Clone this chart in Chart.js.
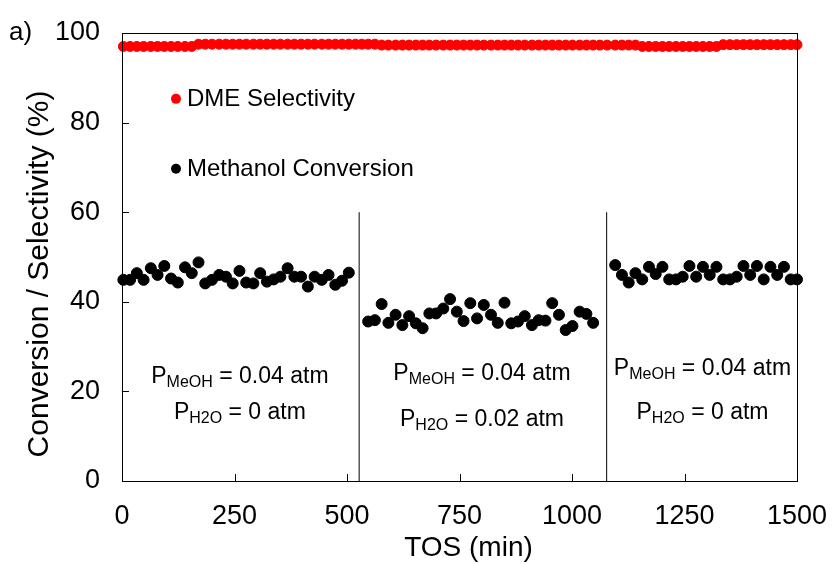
<!DOCTYPE html>
<html lang="en">
<head>
    <meta charset="UTF-8">
    <title>Conversion / Selectivity vs TOS</title>
    <script src="https://cdn.jsdelivr.net/npm/chart.js"></script>
    <style>
        html, body { margin: 0; padding: 0; background: #fff; }
        #wrap { width: 837px; height: 564px; position: relative; }
    </style>
</head>
<body>
    <div id="wrap"><canvas id="chart" width="837" height="564"></canvas></div>

    <script>
        // TOS (min) for each of the three feed periods
        const tosA = [3, 18, 33, 48, 64, 79, 94, 109, 124, 140, 155, 170, 185, 200, 216, 231, 246,
                      261, 276, 292, 307, 322, 337, 352, 368, 383, 398, 413, 428, 444, 459, 474, 489, 504];
        const tosB = [547, 562, 577, 592, 608, 623, 638, 653, 668, 683, 698, 714, 729, 744, 759, 774, 789,
                      804, 820, 835, 850, 865, 880, 895, 911, 926, 941, 956, 971, 986, 1001, 1017, 1032, 1047];
        const tosC = [1096, 1111, 1126, 1141, 1156, 1171, 1186, 1201, 1216, 1231, 1246, 1261, 1276, 1291,
                      1306, 1321, 1336, 1351, 1366, 1381, 1396, 1411, 1426, 1441, 1456, 1471, 1486, 1500];
        const tosGap1 = [519, 533];
        const tosGap2 = [1062, 1078];

        // Methanol conversion (%)
        const convA = [44.9, 44.9, 46.4, 44.9, 47.5, 46.0, 48.0, 45.2, 44.3, 47.7, 46.4, 48.8, 44.1, 44.9, 46.0, 45.6, 44.1,
                       46.9, 44.3, 44.1, 46.4, 44.5, 45.0, 45.6, 47.5, 45.6, 45.6, 43.4, 45.6, 44.9, 46.0, 43.8, 44.7, 46.5];
        const convB = [35.6, 35.9, 39.5, 35.3, 37.1, 34.8, 36.8, 35.2, 34.1, 37.4, 37.4, 38.5, 40.6, 37.8, 35.7, 39.7, 36.3,
                       39.3, 37.1, 35.3, 39.8, 35.2, 35.6, 36.8, 34.8, 35.9, 35.8, 39.7, 37.1, 33.7, 34.6, 37.8, 37.3, 35.3];
        const convC = [48.2, 46.0, 44.3, 46.4, 45.0, 47.8, 46.2, 47.8, 45.0, 45.0, 45.6, 48.0, 45.6, 47.8,
                       46.0, 47.8, 45.0, 45.0, 45.6, 48.0, 46.0, 48.0, 45.0, 47.8, 46.0, 47.8, 45.0, 45.0];

        // DME selectivity (%)
        const selA = [97.0, 97.0, 97.0, 97.0, 97.0, 97.0, 97.0, 97.0, 97.0, 97.0, 97.0, 97.5, 97.5, 97.5, 97.5, 97.5, 97.5,
                      97.5, 97.5, 97.5, 97.5, 97.5, 97.5, 97.5, 97.5, 97.5, 97.5, 97.5, 97.5, 97.5, 97.5, 97.5, 97.5, 97.5];
        const selGap1 = [97.5, 97.5];
        const selB = [97.5, 97.5, 97.3, 97.3, 97.3, 97.3, 97.3, 97.3, 97.3, 97.3, 97.3, 97.3, 97.3, 97.3, 97.3, 97.3, 97.3,
                      97.3, 97.3, 97.3, 97.3, 97.3, 97.3, 97.3, 97.3, 97.3, 97.3, 97.3, 97.3, 97.3, 97.3, 97.3, 97.3, 97.3];
        const selGap2 = [97.3, 97.3];
        const selC = [97.3, 97.3, 97.3, 97.3, 97.0, 97.0, 97.0, 97.0, 97.0, 97.0, 97.0, 97.0, 97.0, 97.0,
                      97.0, 97.0, 97.4, 97.4, 97.4, 97.4, 97.4, 97.4, 97.4, 97.4, 97.4, 97.4, 97.4, 97.4];

        // feed switches and conditions per period
        const switchTimes = [527, 1077];
        const switchTop = 60;
        const periodCenters = [262, 800, 1290];
        const pMeOH = ['0.04 atm', '0.04 atm', '0.04 atm'];
        const pH2O = ['0 atm', '0.02 atm', '0 atm'];

        const xTicks = [0, 250, 500, 750, 1000, 1250, 1500];
        const yTicks = [0, 20, 40, 60, 80, 100];

        const FONT = "'Liberation Sans', Arial, sans-serif";

        function pairs(xs, ys) {
            return xs.map((x, i) => ({ x: x, y: ys[i] }));
        }

        const convData = pairs(tosA, convA).concat(pairs(tosB, convB), pairs(tosC, convC));
        const selData = pairs(tosA, selA).concat(pairs(tosGap1, selGap1), pairs(tosB, selB),
                                                 pairs(tosGap2, selGap2), pairs(tosC, selC));

        const switchSets = switchTimes.map(t => ({
            data: [{ x: t, y: 0 }, { x: t, y: switchTop }],
            showLine: true,
            borderColor: '#000',
            borderWidth: 1,
            pointRadius: 0,
            order: 3
        }));

        // inward ticks, frame, tick labels, titles, legend and text labels
        const decorations = {
            id: 'decorations',
            afterDraw(chart) {
                const ctx = chart.ctx;
                const a = chart.chartArea;
                const xs = chart.scales.x, ys = chart.scales.y;
                ctx.save();
                ctx.strokeStyle = '#000';
                ctx.lineWidth = 1;
                ctx.strokeRect(a.left + 0.5, a.top + 0.5, a.right - a.left, a.bottom - a.top);
                ctx.beginPath();
                yTicks.forEach(v => {
                    const y = Math.round(ys.getPixelForValue(v)) + 0.5;
                    ctx.moveTo(a.left, y);
                    ctx.lineTo(a.left + 7, y);
                });
                xTicks.forEach(v => {
                    const x = Math.round(xs.getPixelForValue(v)) + 0.5;
                    ctx.moveTo(x, a.bottom);
                    ctx.lineTo(x, a.bottom - 7);
                });
                ctx.stroke();

                ctx.fillStyle = '#000';
                ctx.font = '27px ' + FONT;
                ctx.textBaseline = 'middle';
                ctx.textAlign = 'right';
                yTicks.forEach(v => ctx.fillText(String(v), a.left - 22, ys.getPixelForValue(v)));
                ctx.textAlign = 'center';
                xTicks.forEach(v => ctx.fillText(String(v), xs.getPixelForValue(v), 517));

                ctx.font = '28px ' + FONT;
                ctx.fillText('TOS (min)', (a.left + a.right) / 2 + 9, 548);
                ctx.save();
                ctx.translate(40, 274);
                ctx.rotate(-Math.PI / 2);
                ctx.font = '30px ' + FONT;
                ctx.fillText('Conversion / Selectivity (%)', 0, 0);
                ctx.restore();

                // legend
                const legend = [
                    { label: 'DME Selectivity', color: '#ff0000', y: 85.3 },
                    { label: 'Methanol Conversion', color: '#000000', y: 69.7 }
                ];
                ctx.font = '24px ' + FONT;
                ctx.textAlign = 'left';
                legend.forEach(item => {
                    const px = xs.getPixelForValue(120);
                    const py = ys.getPixelForValue(item.y);
                    ctx.fillStyle = item.color;
                    ctx.beginPath();
                    ctx.arc(px, py, 5, 0, Math.PI * 2);
                    ctx.fill();
                    ctx.fillStyle = '#000';
                    ctx.fillText(item.label, px + 11, py + 1);
                });

                // conditions for each period
                const drawP = (sub, value, cx, cy) => {
                    const main = '23px ' + FONT, small = '16px ' + FONT;
                    ctx.font = main;
                    const wP = ctx.measureText('P').width;
                    const wRest = ctx.measureText(' = ' + value).width;
                    ctx.font = small;
                    const wSub = ctx.measureText(sub).width;
                    let x = cx - (wP + wSub + wRest) / 2;
                    ctx.font = main;
                    ctx.fillText('P', x, cy);
                    x += wP;
                    ctx.font = small;
                    ctx.fillText(sub, x, cy + 6);
                    x += wSub;
                    ctx.font = main;
                    ctx.fillText(' = ' + value, x, cy);
                };
                ctx.fillStyle = '#000';
                const rowA = [23.2, 24.0, 25.0];
                const rowB = [15.2, 13.8, 15.2];
                periodCenters.forEach((t, i) => {
                    const cx = xs.getPixelForValue(t);
                    drawP('MeOH', pMeOH[i], cx, ys.getPixelForValue(rowA[i]));
                    drawP('H2O', pH2O[i], cx, ys.getPixelForValue(rowB[i]));
                });

                ctx.font = '26px ' + FONT;
                ctx.textAlign = 'left';
                ctx.fillText('a)', 9, 33);
                ctx.restore();
            }
        };

        new Chart(document.getElementById('chart'), {
            type: 'scatter',
            data: {
                datasets: [
                    {
                        label: 'DME Selectivity',
                        data: selData,
                        backgroundColor: '#ff0000',
                        borderColor: '#ff0000',
                        pointRadius: 5,
                        order: 2
                    },
                    {
                        label: 'Methanol Conversion',
                        data: convData,
                        backgroundColor: '#000000',
                        borderColor: '#000000',
                        pointRadius: 5.5,
                        order: 1
                    }
                ].concat(switchSets)
            },
            options: {
                responsive: false,
                animation: false,
                clip: false,
                layout: { autoPadding: false, padding: { top: 33, right: 40, left: 0, bottom: 0 } },
                plugins: {
                    legend: { display: false },
                    tooltip: { enabled: false }
                },
                scales: {
                    x: {
                        type: 'linear',
                        min: 0,
                        max: 1500,
                        afterBuildTicks: s => { s.ticks = xTicks.map(v => ({ value: v })); },
                        afterFit: s => { s.height = 83; },
                        grid: { display: false },
                        border: { color: '#000', width: 1 },
                        ticks: { display: false }
                    },
                    y: {
                        min: 0,
                        max: 100,
                        afterBuildTicks: s => { s.ticks = yTicks.map(v => ({ value: v })); },
                        afterFit: s => { s.width = 122; },
                        grid: { display: false },
                        border: { color: '#000', width: 1 },
                        ticks: { display: false }
                    }
                }
            },
            plugins: [decorations]
        });
    </script>
</body>
</html>
